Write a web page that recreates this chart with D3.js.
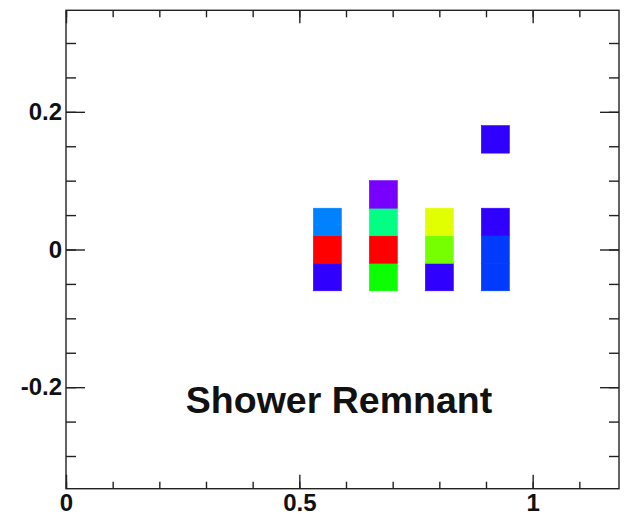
<!DOCTYPE html>
<html lang="en">
<head>
  <meta charset="UTF-8" />
  <title>Shower Remnant</title>
  <script src="https://d3js.org/d3.v7.min.js"></script>
  <style>
    body { margin: 0; background: #fff; }
    svg text { font-family: "Liberation Sans", Arial, sans-serif; font-weight: bold; fill: #111; }
  </style>
</head>
<body>
<script type="text/javascript">

// bin lower edges (x, y) of every filled cell, and its content
var cellX = [0.53, 0.53, 0.53, 0.65, 0.65, 0.65, 0.65, 0.77, 0.77, 0.77, 0.89, 0.89, 0.89, 0.89];
var cellY = [-0.06, -0.02, 0.02, -0.06, -0.02, 0.02, 0.06, -0.06, -0.02, 0.02, -0.06, -0.02, 0.02, 0.14];
var cellZ = [2, 17, 4.5, 10, 17, 8, 1, 2, 11.5, 13, 3.5, 3.5, 2, 2];
var binW = 0.06, binH = 0.04;

var xTicks = [0, 0.5, 1];
var xTickLabels = ["0", "0.5", "1"];
var yTicks = [-0.2, 0, 0.2];
var yTickLabels = ["-0.2", "0", "0.2"];
var title = "Shower Remnant";

var W = 627, H = 514;
var fL = 66, fR = 619, fT = 10.3, fB = 488.7;

var svg = d3.select("body").append("svg").attr("width", W).attr("height", H);

var x = d3.scaleLinear().domain([0, 1.185]).range([fL, fR]);
var y = d3.scaleLinear().domain([-0.3475, 0.3475]).range([fB, fT]);
// rainbow palette: low = violet, high = red
var hue = d3.scaleLinear().domain([1, 17]).range([268, 0]);

svg.append("g").selectAll("rect")
  .data(cellZ.map(function(z, i) { return { x: cellX[i], y: cellY[i], z: z }; }))
  .enter().append("rect")
  .attr("x", function(d) { return x(d.x); })
  .attr("y", function(d) { return y(d.y + binH); })
  .attr("width", function(d) { return x(d.x + binW) - x(d.x); })
  .attr("height", function(d) { return y(d.y) - y(d.y + binH); })
  .attr("fill", function(d) { return d3.hsl(hue(d.z), 1, 0.5).toString(); })
  .attr("stroke", function(d) { return d3.hsl(hue(d.z), 1, 0.5).toString(); })
  .attr("stroke-width", 0.6);

// frame
svg.append("rect").attr("x", fL).attr("y", fT)
  .attr("width", fR - fL).attr("height", fB - fT)
  .attr("fill", "none").attr("stroke", "#222").attr("stroke-width", 1.4);

function styleAxis(g) {
  g.select(".domain").remove();
  g.selectAll("line").attr("stroke", "#222").attr("stroke-width", 1.4);
  g.selectAll("text").style("font-size", "24px");
}

var xMinor = d3.range(0, 1.19, 0.1);
var yMinor = d3.range(-0.3, 0.31, 0.05);

// bottom
svg.append("g").attr("transform", "translate(0," + fB + ")")
  .call(d3.axisBottom(x).tickValues(xMinor).tickSize(-7).tickFormat(""))
  .call(styleAxis);
svg.append("g").attr("transform", "translate(0," + fB + ")")
  .call(d3.axisBottom(x).tickValues(xTicks).tickSize(-14).tickPadding(5)
    .tickFormat(function(d, i) { return xTickLabels[i]; }))
  .call(styleAxis);
// top
svg.append("g").attr("transform", "translate(0," + fT + ")")
  .call(d3.axisTop(x).tickValues(xMinor).tickSize(-7).tickFormat(""))
  .call(styleAxis);
svg.append("g").attr("transform", "translate(0," + fT + ")")
  .call(d3.axisTop(x).tickValues(xTicks).tickSize(-13).tickFormat(""))
  .call(styleAxis);
// left
svg.append("g").attr("transform", "translate(" + fL + ",0)")
  .call(d3.axisLeft(y).tickValues(yMinor).tickSize(-10).tickFormat(""))
  .call(styleAxis);
svg.append("g").attr("transform", "translate(" + fL + ",0)")
  .call(d3.axisLeft(y).tickValues(yTicks).tickSize(-19).tickPadding(4)
    .tickFormat(function(d, i) { return yTickLabels[i]; }))
  .call(styleAxis);
// right
svg.append("g").attr("transform", "translate(" + fR + ",0)")
  .call(d3.axisRight(y).tickValues(yMinor).tickSize(-10).tickFormat(""))
  .call(styleAxis);
svg.append("g").attr("transform", "translate(" + fR + ",0)")
  .call(d3.axisRight(y).tickValues(yTicks).tickSize(-19).tickFormat(""))
  .call(styleAxis);

svg.append("text")
  .attr("x", x(0.585)).attr("y", y(-0.238))
  .attr("text-anchor", "middle")
  .style("font-size", "37.5px")
  .text(title);

</script>
</body>
</html>
